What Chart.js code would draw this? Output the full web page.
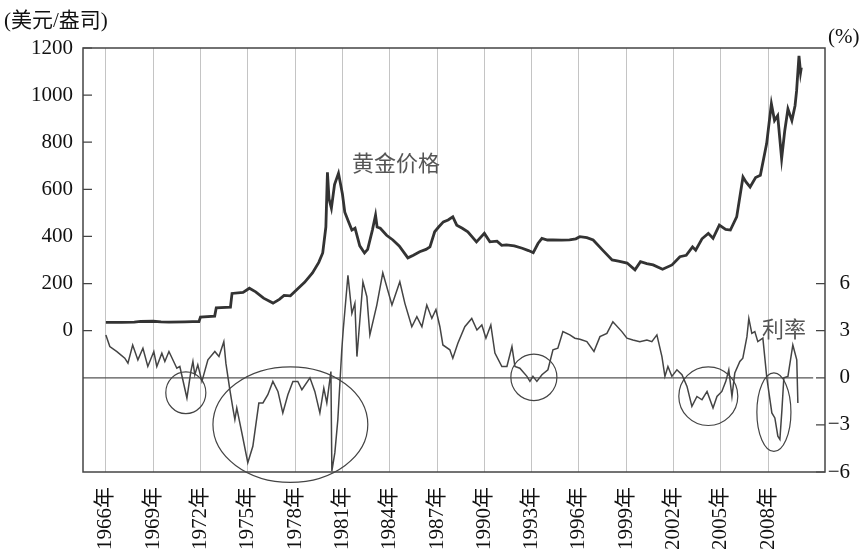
<!DOCTYPE html>
<html>
<head>
<meta charset="utf-8">
<script src="https://cdn.jsdelivr.net/npm/chart.js@4.4.1/dist/chart.umd.min.js"></script>
<style>
    html, body { margin: 0; padding: 0; background: #fff; }
    #wrap { width: 862px; height: 553px; }
</style>
</head>
<body>
<div id="wrap"><canvas id="grafico" width="862" height="553"></canvas></div>
<script>
// =============================
// DADOS
// =============================

const goldYears = [
    1966.0, 1967.0, 1967.8, 1968.2, 1969.0, 1969.5, 1970.0, 1971.0, 1971.5, 1971.9,
    1972.0, 1972.9, 1973.0, 1973.9, 1974.0, 1974.7, 1975.1, 1975.5, 1976.0, 1976.6,
    1977.0, 1977.3, 1977.7, 1978.2, 1978.6, 1979.1, 1979.5, 1979.75, 1979.95, 1980.05,
    1980.15, 1980.3, 1980.5, 1980.75, 1981.0, 1981.15, 1981.4, 1981.6, 1981.8, 1982.1,
    1982.4, 1982.6, 1982.9, 1983.1, 1983.2, 1983.4, 1983.8, 1984.2, 1984.6, 1985.15,
    1985.5, 1985.9, 1986.3, 1986.55, 1986.85, 1987.1, 1987.4, 1987.7, 1988.0, 1988.25,
    1988.6, 1988.95, 1989.2, 1989.5, 1990.0, 1990.35, 1990.8, 1991.1, 1991.4, 1991.9,
    1992.4, 1992.8, 1993.1, 1993.4, 1993.65, 1994.0, 1994.35, 1994.9, 1995.4, 1995.8,
    1996.05, 1996.5, 1996.9, 1997.5, 1998.1, 1998.5, 1999.05, 1999.55, 1999.9, 2000.3,
    2000.7, 2001.3, 2001.9, 2002.4, 2002.8, 2003.2, 2003.4, 2003.8, 2004.2, 2004.5,
    2004.9, 2005.3, 2005.6, 2006.0, 2006.4, 2006.6, 2006.85, 2007.2, 2007.5, 2007.9,
    2008.2, 2008.4, 2008.6, 2008.85, 2009.05, 2009.25, 2009.5, 2009.7, 2009.8, 2009.95,
    2010.05, 2010.1
];
const goldPrices = [
    35, 35, 36, 39, 40, 37, 36, 37, 38, 38,
    58, 62, 97, 100, 158, 162, 180, 165, 138, 117,
    133, 150, 148, 180, 205, 245, 290, 330, 440, 672,
    560, 520, 620, 668, 580, 503, 460, 427, 435, 360,
    330, 345, 427, 490, 440, 435, 405, 385, 360, 309,
    320, 335, 345, 356, 420, 440, 462, 470, 483, 448,
    435, 420, 400, 377, 413, 377, 380, 362, 364, 360,
    350, 340, 331, 370, 392, 385, 385, 384, 385, 390,
    399, 395, 385, 342, 300, 295, 287, 258, 293, 285,
    279, 261, 279, 314, 320, 356, 342, 390, 413, 392,
    448, 430, 427, 483, 652, 630, 610, 650, 660, 794,
    963, 892, 913, 730, 850, 941, 892, 955, 1019, 1167,
    1096, 1117
];

const rateYears = [
    1966.0, 1966.25, 1966.7, 1967.2, 1967.4, 1967.7, 1968.03, 1968.35, 1968.66, 1969.04,
    1969.23, 1969.55, 1969.74, 1970.0, 1970.5, 1970.69, 1971.14, 1971.39, 1971.52, 1971.64,
    1971.83, 1972.09, 1972.47, 1972.91, 1973.17, 1973.48, 1973.61, 1973.86, 1974.05, 1974.18,
    1974.3, 1974.62, 1975.0, 1975.32, 1975.7, 1975.96, 1976.27, 1976.59, 1976.91, 1977.22,
    1977.54, 1977.86, 1978.17, 1978.43, 1978.94, 1979.25, 1979.57, 1979.82, 1980.01, 1980.27,
    1980.33, 1980.52, 1980.71, 1980.96, 1981.05, 1981.35, 1981.6, 1981.79, 1981.92, 1982.3,
    1982.55, 1982.74, 1983.18, 1983.56, 1984.14, 1984.64, 1984.96, 1985.4, 1985.72, 1986.04,
    1986.35, 1986.67, 1986.93, 1987.18, 1987.37, 1987.81, 1988.0, 1988.32, 1988.76, 1989.2,
    1989.53, 1989.84, 1990.1, 1990.41, 1990.67, 1991.11, 1991.43, 1991.75, 1991.94, 1992.25,
    1992.7, 1992.89, 1993.08, 1993.33, 1993.65, 1994.03, 1994.35, 1994.66, 1994.98, 1995.42,
    1995.74, 1996.06, 1996.5, 1996.95, 1997.33, 1997.77, 1998.15, 1998.72, 1999.04, 1999.42,
    1999.86, 2000.31, 2000.62, 2000.94, 2001.26, 2001.45, 2001.64, 2001.89, 2002.21, 2002.53,
    2002.85, 2003.16, 2003.48, 2003.8, 2004.12, 2004.5, 2004.75, 2005.06, 2005.31, 2005.5,
    2005.7, 2005.88, 2006.2, 2006.39, 2006.65, 2006.77, 2006.96, 2007.15, 2007.34, 2007.66,
    2007.91, 2008.23, 2008.42, 2008.61, 2008.74, 2008.87, 2008.99, 2009.25, 2009.56, 2009.81,
    2009.88
];
const rates = [
    2.73, 1.99, 1.67, 1.25, 0.93, 2.09, 1.14, 1.88, 0.72, 1.67,
    0.72, 1.57, 1.04, 1.67, 0.61, 0.72, -1.29, 0.4, 1.04, 0.19,
    0.82, -0.23, 1.14, 1.67, 1.35, 2.3, 0.93, -0.76, -1.92, -2.66,
    -1.92, -3.49, -5.41, -4.36, -1.61, -1.6, -1.08, -0.23, -0.87, -2.24,
    -1.08, -0.23, -0.23, -0.76, 0, -0.87, -2.24, -0.66, -1.6, 0.4,
    -5.94, -4.77, -2.66, 1.78, 3.04, 6.53, 4.1, 4.74, 1.35, 6.11,
    5.16, 2.73, 4.63, 6.68, 4.63, 6.11, 4.74, 3.25, 3.89, 3.25,
    4.63, 3.78, 4.35, 3.25, 2.09, 1.78, 1.25, 2.2, 3.25, 3.78,
    3.04, 3.36, 2.52, 3.36, 1.57, 0.72, 0.72, 1.99, 0.72, 0.61,
    0.09, -0.23, 0.09, -0.23, 0.19, 0.51, 1.78, 1.88, 2.94, 2.73,
    2.52, 2.45, 2.3, 1.67, 2.62, 2.83, 3.57, 2.94, 2.52, 2.41,
    2.3, 2.41, 2.3, 2.73, 1.35, 0.09, 0.72, 0.09, 0.51, 0.19,
    -0.55, -1.82, -1.19, -1.4, -0.87, -1.92, -1.19, -0.87, -0.23, 0.51,
    -1.19, 0.3, 1.04, 1.25, 2.62, 3.78, 2.83, 2.94, 2.3, 2.52,
    0, -2.24, -2.56, -3.72, -3.93, -2.03, 0, 0.09, 2.09, 1.14,
    -1.61
];

const yearTicks = [1966, 1969, 1972, 1975, 1978, 1981, 1984, 1987, 1990, 1993, 1996, 1999, 2002, 2005, 2008];
const priceTicks = [0, 200, 400, 600, 800, 1000, 1200];
const rateTicks = [-6, -3, 0, 3, 6];

// círculos de destaque: [ano central, taxa central, raio em anos, raio em %]
const highlights = [
    [1971.07, -0.95, 1.27, 1.33],
    [1977.7, -2.98, 4.91, 3.68],
    [1993.14, 0.03, 1.46, 1.48],
    [2004.2, -1.17, 1.87, 1.87],
    [2008.36, -2.19, 1.08, 2.5]
];


// =============================
// PLUGIN: MOLDURA E ANOTAÇÕES
// =============================

const serif = "'Liberation Serif', 'Noto Sans CJK SC', serif";

const extras = {
    id: 'extras',
    beforeDatasetsDraw(chart) {
        const { ctx, chartArea: a, scales } = chart;
        const y0 = scales.yRate.getPixelForValue(0);
        ctx.save();
        ctx.strokeStyle = '#555';
        ctx.lineWidth = 1.3;
        ctx.beginPath();
        ctx.moveTo(a.left, y0);
        ctx.lineTo(scales.x.getPixelForValue(2010.85), y0);
        ctx.stroke();
        ctx.restore();
    },
    afterDatasetsDraw(chart) {
        const { ctx, chartArea: a, scales } = chart;
        const sx = scales.x, sr = scales.yRate, sp = scales.yPrice;
        ctx.save();

        // elipses
        ctx.strokeStyle = '#444';
        ctx.lineWidth = 1.2;
        highlights.forEach(h => {
            const cx = sx.getPixelForValue(h[0]);
            const cy = sr.getPixelForValue(h[1]);
            const rx = Math.abs(sx.getPixelForValue(h[0] + h[2]) - cx);
            const ry = Math.abs(sr.getPixelForValue(h[1] + h[3]) - cy);
            ctx.beginPath();
            ctx.ellipse(cx, cy, rx, ry, 0, 0, Math.PI * 2);
            ctx.stroke();
        });

        // moldura
        ctx.strokeStyle = '#444';
        ctx.lineWidth = 1.5;
        ctx.strokeRect(a.left, a.top, a.right - a.left, a.bottom - a.top);

        // marcas internas dos eixos
        ctx.lineWidth = 1.2;
        ctx.beginPath();
        priceTicks.forEach(v => {
            const y = sp.getPixelForValue(v);
            ctx.moveTo(a.left, y);
            ctx.lineTo(a.left + 9, y);
        });
        rateTicks.forEach(v => {
            const y = sr.getPixelForValue(v);
            ctx.moveTo(a.right, y);
            ctx.lineTo(a.right - 9, y);
        });
        ctx.stroke();

        // rótulos das séries
        ctx.fillStyle = '#555';
        ctx.font = "22px 'Noto Sans CJK SC', sans-serif";
        ctx.textBaseline = 'middle';
        ctx.textAlign = 'left';
        ctx.fillText('黄金价格', sx.getPixelForValue(1981.6), sp.getPixelForValue(714));
        ctx.fillText('利率', sx.getPixelForValue(2007.6), sr.getPixelForValue(3.1));

        // títulos dos eixos
        ctx.fillStyle = '#111';
        ctx.font = '21px ' + serif;
        ctx.textBaseline = 'alphabetic';
        ctx.fillText('(美元/盎司)', 4, 27);
        ctx.fillText('(%)', 828, 43);
        ctx.restore();
    }
};


// =============================
// GRÁFICO
// =============================

function montarPontos(xs, ys) {
    return xs.map((x, i) => ({ x: x, y: ys[i] }));
}

const fonteTicks = { family: serif, size: 21 };

new Chart(document.getElementById('grafico'), {
    type: 'line',
    data: {
        datasets: [
            {
                label: '黄金价格',
                data: montarPontos(goldYears, goldPrices),
                yAxisID: 'yPrice',
                borderColor: '#333',
                borderWidth: 2.8,
                pointRadius: 0,
                tension: 0
            },
            {
                label: '利率',
                data: montarPontos(rateYears, rates),
                yAxisID: 'yRate',
                borderColor: '#444',
                borderWidth: 1.5,
                pointRadius: 0,
                tension: 0
            }
        ]
    },
    options: {
        responsive: false,
        animation: false,
        layout: { padding: { top: 48, right: 12, left: 0, bottom: 0 } },
        plugins: {
            legend: { display: false },
            tooltip: { enabled: false }
        },
        scales: {
            x: {
                type: 'linear',
                min: 1964.55,
                max: 2011.6,
                afterBuildTicks: s => { s.ticks = yearTicks.map(v => ({ value: v })); },
                afterFit: s => { s.height = 81; },
                border: { display: false },
                grid: { color: '#c4c4c4', lineWidth: 1, drawTicks: false },
                ticks: {
                    autoSkip: false,
                    minRotation: 90,
                    maxRotation: 90,
                    padding: 15,
                    color: '#111',
                    font: fonteTicks,
                    callback: v => v + '年'
                }
            },
            yPrice: {
                position: 'left',
                min: -600,
                max: 1200,
                afterBuildTicks: s => { s.ticks = priceTicks.map(v => ({ value: v })); },
                afterFit: s => { s.width = 83; },
                border: { display: false },
                grid: { display: false, drawTicks: false },
                ticks: {
                    padding: 10,
                    color: '#111',
                    font: fonteTicks,
                    callback: v => String(v)
                }
            },
            yRate: {
                position: 'right',
                min: -6,
                max: 21,
                afterBuildTicks: s => { s.ticks = rateTicks.map(v => ({ value: v })); },
                afterFit: s => { s.width = 25; },
                border: { display: false },
                grid: { display: false, drawTicks: false },
                ticks: {
                    crossAlign: 'far',
                    padding: 2,
                    color: '#111',
                    font: fonteTicks,
                    callback: v => (v < 0 ? '−' + Math.abs(v) : String(v))
                }
            }
        }
    },
    plugins: [extras]
});
</script>
</body>
</html>
